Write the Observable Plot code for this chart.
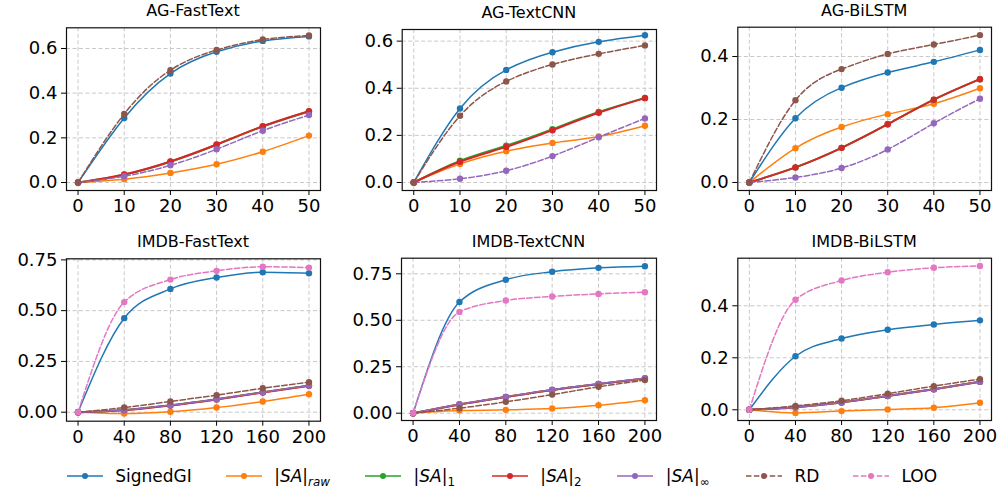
<!DOCTYPE html>
<html>
<head>
<meta charset="utf-8">
<script src="https://cdn.jsdelivr.net/npm/d3@7"></script>
<script src="https://cdn.jsdelivr.net/npm/@observablehq/plot@0.6"></script>
<style>
  html, body { margin: 0; padding: 0; background: #fff; }
  #fig { position: relative; width: 1000px; height: 491px; overflow: hidden; font-family: "DejaVu Sans", sans-serif; color: #000; }
  .panel { position: absolute; }
  .leg { position: absolute; top: 465px; height: 22px; display: flex; align-items: center; font-size: 17px; white-space: nowrap; }
  .leg svg { display: block; }
  .lab sub { font-size: 0.7em; vertical-align: -0.35em; line-height: 0; }
  .ptitle { position: absolute; font-size: 16px; font-weight: normal; line-height: 20px; height: 20px; text-align: center; white-space: nowrap; }
</style>
</head>
<body>
<div id="fig"></div>
<script>
// ---- data ----
const agSteps = [0, 10, 20, 30, 40, 50];
const imdbSteps = [0, 40, 80, 120, 160, 200];
const agTicksX = [0, 10, 20, 30, 40, 50];
const imdbTicksX = [0, 40, 80, 120, 160, 200];

const seriesKeys = ["SignedGI", "SAraw", "SA1", "SA2", "SAinf", "RD", "LOO"];
const seriesColors = ["#1f77b4", "#ff7f0e", "#2ca02c", "#d62728", "#9467bd", "#8c564b", "#e377c2"];
const legendLabels = ["SignedGI", "|<i>SA</i>|<sub><i>raw</i></sub>", "|<i>SA</i>|<sub>1</sub>", "|<i>SA</i>|<sub>2</sub>", "|<i>SA</i>|<sub>∞</sub>", "RD", "LOO"];
const panelTitles = ["AG-FastText", "AG-TextCNN", "AG-BiLSTM", "IMDB-FastText", "IMDB-TextCNN", "IMDB-BiLSTM"];

const agFastText = {
  SignedGI: [0, 0.289, 0.488, 0.585, 0.634, 0.654],
  SAraw:    [0, 0.015, 0.043, 0.082, 0.138, 0.210],
  SA1:      [0, 0.035, 0.093, 0.169, 0.251, 0.318],
  SA2:      [0, 0.036, 0.094, 0.170, 0.252, 0.319],
  SAinf:    [0, 0.028, 0.077, 0.149, 0.232, 0.302],
  RD:       [0, 0.307, 0.503, 0.593, 0.640, 0.658]
};
const agTextCNN = {
  SignedGI: [0, 0.314, 0.478, 0.553, 0.597, 0.625],
  SAraw:    [0, 0.079, 0.133, 0.168, 0.195, 0.241],
  SA1:      [0, 0.092, 0.156, 0.226, 0.299, 0.359],
  SA2:      [0, 0.088, 0.151, 0.222, 0.296, 0.358],
  SAinf:    [0, 0.016, 0.050, 0.112, 0.192, 0.272],
  RD:       [0, 0.283, 0.429, 0.501, 0.546, 0.582]
};
const agBiLSTM = {
  SignedGI: [0, 0.204, 0.301, 0.349, 0.383, 0.421],
  SAraw:    [0, 0.109, 0.176, 0.217, 0.250, 0.299],
  SA1:      [0, 0.048, 0.110, 0.185, 0.263, 0.328],
  SA2:      [0, 0.048, 0.110, 0.185, 0.263, 0.328],
  SAinf:    [0, 0.016, 0.046, 0.105, 0.188, 0.266],
  RD:       [0, 0.261, 0.360, 0.408, 0.438, 0.468]
};
const imdbFastText = {
  SignedGI: [0, 0.463, 0.607, 0.663, 0.689, 0.684],
  SAraw:    [0, -0.007, 0.002, 0.023, 0.053, 0.089],
  SA1:      [0, 0.011, 0.034, 0.064, 0.098, 0.131],
  SA2:      [0, 0.010, 0.033, 0.063, 0.097, 0.130],
  SAinf:    [0, 0.011, 0.034, 0.064, 0.098, 0.131],
  RD:       [0, 0.023, 0.053, 0.084, 0.118, 0.148],
  LOO:      [0, 0.542, 0.653, 0.696, 0.716, 0.712]
};
const imdbTextCNN = {
  SignedGI: [0, 0.598, 0.718, 0.761, 0.782, 0.791],
  SAraw:    [0, 0.014, 0.018, 0.025, 0.043, 0.070],
  SA1:      [0, 0.047, 0.087, 0.125, 0.157, 0.187],
  SA2:      [0, 0.047, 0.087, 0.125, 0.157, 0.187],
  SAinf:    [0, 0.048, 0.088, 0.126, 0.158, 0.188],
  RD:       [0, 0.027, 0.061, 0.100, 0.142, 0.178],
  LOO:      [0, 0.545, 0.606, 0.628, 0.642, 0.651]
};
const imdbBiLSTM = {
  SignedGI: [0, 0.206, 0.274, 0.308, 0.328, 0.344],
  SAraw:    [0, -0.012, -0.005, 0.001, 0.008, 0.027],
  SA1:      [0, 0.010, 0.028, 0.053, 0.079, 0.108],
  SA2:      [0, 0.010, 0.028, 0.053, 0.079, 0.108],
  SAinf:    [0, 0.010, 0.028, 0.053, 0.079, 0.108],
  RD:       [0, 0.015, 0.035, 0.062, 0.091, 0.118],
  LOO:      [0, 0.423, 0.497, 0.529, 0.546, 0.553]
};

// ---- layout ----
const panels = [
  {title: panelTitles[0], steps: agSteps, xt: agTicksX, xd: [-2.5, 52.5], d: agFastText, yd: [-0.0357, 0.6926], yt: [0, 0.2, 0.4, 0.6], fmt: ".1f", infDash: true, curve: "natural", sx: 0, sy: 0, box: [66, 320, 27.3, 190]},
  {title: panelTitles[1], steps: agSteps, xt: agTicksX, xd: [-2.5, 52.5], d: agTextCNN, yd: [-0.034, 0.6494], yt: [0, 0.2, 0.4, 0.6], fmt: ".1f", infDash: true, curve: "natural", sx: 335, sy: 0, box: [401.7, 656, 29, 190]},
  {title: panelTitles[2], steps: agSteps, xt: agTicksX, xd: [-2.5, 52.5], d: agBiLSTM, yd: [-0.0254, 0.493], yt: [0, 0.2, 0.4], fmt: ".1f", infDash: true, curve: "natural", sx: 670, sy: 0, box: [737.3, 991, 26.7, 190]},
  {title: panelTitles[3], steps: imdbSteps, xt: imdbTicksX, xd: [-10, 210], d: imdbFastText, yd: [-0.0443, 0.7553], yt: [0, 0.25, 0.5, 0.75], fmt: ".2f", infDash: false, curve: "monotone-x", sx: 0, sy: 230, box: [66, 320, 258.3, 420.7]},
  {title: panelTitles[4], steps: imdbSteps, xt: imdbTicksX, xd: [-10, 210], d: imdbTextCNN, yd: [-0.0393, 0.834], yt: [0, 0.25, 0.5, 0.75], fmt: ".2f", infDash: false, curve: "monotone-x", sx: 335, sy: 230, box: [401, 656, 257.7, 420]},
  {title: panelTitles[5], steps: imdbSteps, xt: imdbTicksX, xd: [-10, 210], d: imdbBiLSTM, yd: [-0.0412, 0.583], yt: [0, 0.2, 0.4], fmt: ".1f", infDash: false, curve: "monotone-x", sx: 670, sy: 230, box: [737.3, 991, 257.7, 420]}
];

const W = 330, H = 230;
const fig = document.getElementById("fig");

for (const p of panels) {
  const [bl, br, bt, bb] = p.box;
  const marks = [
    Plot.gridX(p.xt, {stroke: "#c8c8c8", strokeOpacity: 1, strokeDasharray: "4,2.5", strokeWidth: 1}),
    Plot.gridY(p.yt, {stroke: "#c8c8c8", strokeOpacity: 1, strokeDasharray: "4,2.5", strokeWidth: 1}),
    Plot.axisX({ticks: p.xt, tickSize: 5, tickPadding: 4, fontSize: 18, label: null, stroke: "#000"}),
    Plot.axisY({ticks: p.yt, tickFormat: d3.format(p.fmt), tickSize: 5, tickPadding: 4, fontSize: 18, label: null, stroke: "#000"})
  ];
  seriesKeys.forEach((k, i) => {
    const arr = p.d[k];
    if (!arr) return;
    const rows = p.steps.map((x, j) => ({x, y: arr[j]}));
    const dashed = k === "RD" || k === "LOO" || (k === "SAinf" && p.infDash);
    const sw = (k === "SA1" || k === "SA2") ? 2 : 1.5;
    marks.push(Plot.line(rows, {x: "x", y: "y", stroke: seriesColors[i], strokeWidth: sw, curve: p.curve,
      strokeDasharray: dashed ? "5.5,2.4" : null}));
    marks.push(Plot.dot(rows, {x: "x", y: "y", fill: seriesColors[i], r: 3.2, stroke: null}));
  });
  marks.push(Plot.frame({stroke: "#111", strokeWidth: 1.2}));

  const svg = Plot.plot({
    width: W, height: H,
    marginLeft: bl - p.sx, marginRight: p.sx + W - br,
    marginTop: bt - p.sy, marginBottom: p.sy + H - bb,
    x: {domain: p.xd, label: null},
    y: {domain: p.yd, label: null},
    style: {fontFamily: "DejaVu Sans", fontSize: "18px", background: "transparent", color: "#000", overflow: "visible"},
    marks
  });
  svg.classList.add("panel");
  svg.style.left = p.sx + "px";
  svg.style.top = p.sy + "px";
  fig.appendChild(svg);

  const t = document.createElement("div");
  t.className = "ptitle";
  t.textContent = p.title;
  t.style.left = bl + "px";
  t.style.width = (br - bl) + "px";
  t.style.top = (bt - 26) + "px";
  fig.appendChild(t);
}

// ---- legend ----
const legendHandleX = [66.7, 225.7, 365, 491.7, 617.3, 746, 853];
seriesKeys.forEach((k, i) => {
  const div = document.createElement("div");
  div.className = "leg";
  div.style.left = legendHandleX[i] + "px";
  const dashed = k === "RD" || k === "LOO";
  div.innerHTML = `<svg width="36" height="10"><line x1="0" x2="36" y1="5" y2="5" stroke="${seriesColors[i]}" stroke-width="1.5" ${dashed ? 'stroke-dasharray="5.5,2.4"' : ''}/><circle cx="18" cy="5" r="3" fill="${seriesColors[i]}"/></svg><span class="lab" style="margin-left:12.5px">${legendLabels[i]}</span>`;
  fig.appendChild(div);
});
</script>
</body>
</html>
